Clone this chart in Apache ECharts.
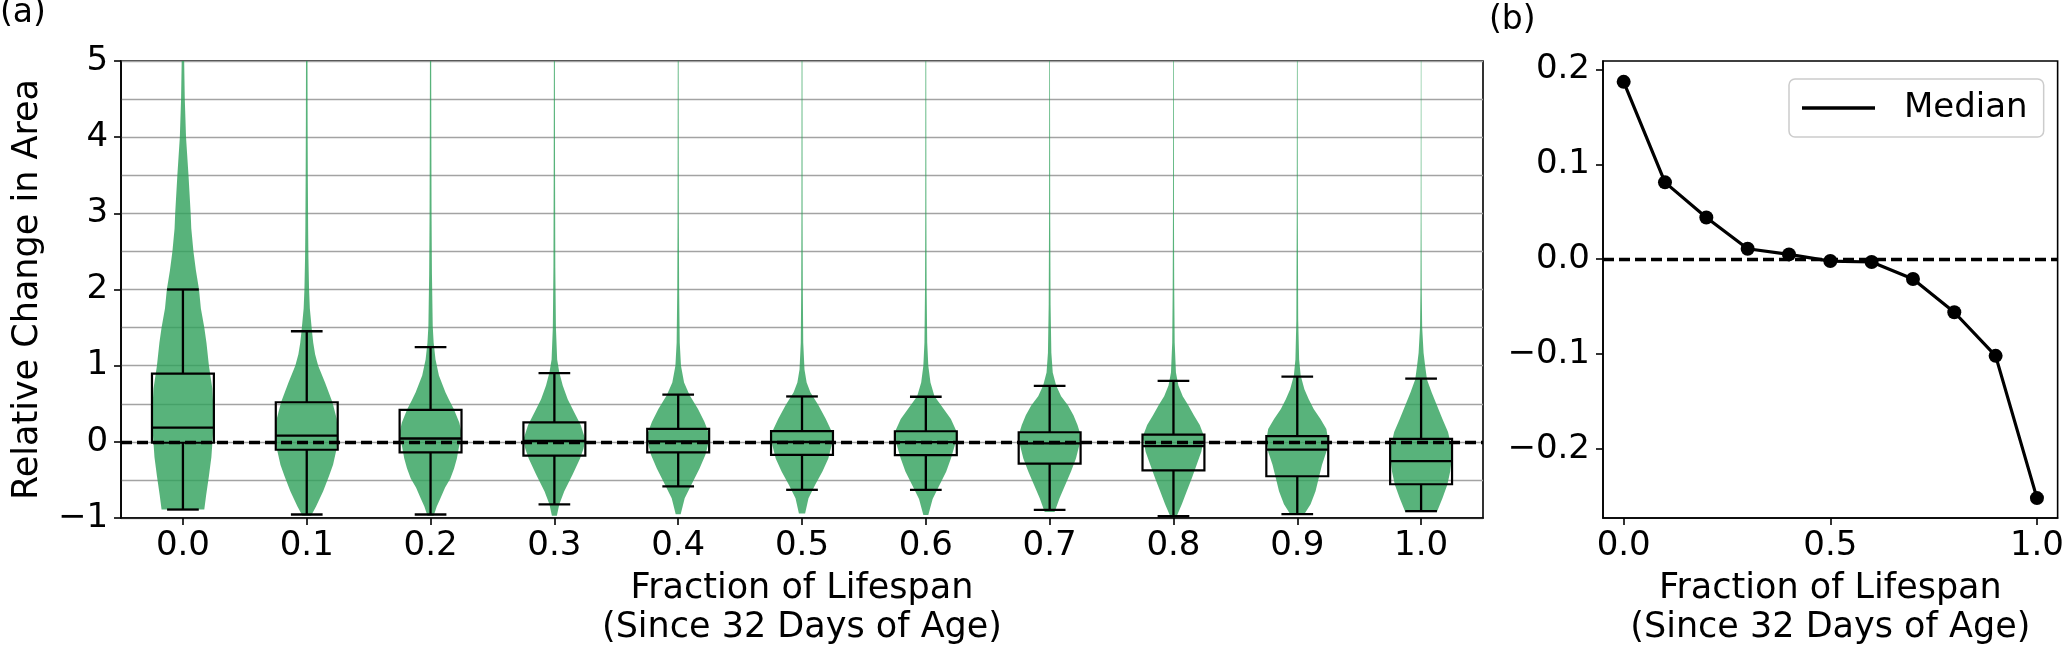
<!DOCTYPE html>
<html><head><meta charset="utf-8">
<script src="https://cdn.jsdelivr.net/npm/echarts@6/dist/echarts.min.js"></script>
<style>html,body{margin:0;padding:0;background:#fff}#c{width:2067px;height:652px}</style>
</head><body><div id="c"></div>
<script>
// ---- data ----
const fractions = [0, 0.1, 0.2, 0.3, 0.4, 0.5, 0.6, 0.7, 0.8, 0.9, 1.0];
const xTickLabels = ['0.0','0.1','0.2','0.3','0.4','0.5','0.6','0.7','0.8','0.9','1.0'];
const yTicksA = [-1, 0, 1, 2, 3, 4, 5];
const xTicksB = [0, 0.5, 1.0];
const yTicksB = [-0.2, -0.1, 0, 0.1, 0.2];
const medians = [0.187, 0.081, 0.044, 0.011, 0.005, -0.002, -0.003, -0.021, -0.056, -0.102, -0.252];
const q1 = [-0.012, -0.104, -0.139, -0.18, -0.139, -0.171, -0.175, -0.287, -0.376, -0.452, -0.557];
const q3 = [0.896, 0.52, 0.42, 0.256, 0.169, 0.14, 0.139, 0.126, 0.095, 0.074, 0.04];
const whiskerLow = [-0.889, -0.954, -0.954, -0.82, -0.585, -0.63, -0.63, -0.893, -0.975, -0.95, -0.91];
const whiskerHigh = [2.0, 1.452, 1.244, 0.902, 0.62, 0.596, 0.592, 0.734, 0.80, 0.855, 0.83];

// violin outlines: [value, relative half-width (1 = widest)]
const violin00 = [[-0.89,0.69],[-0.7,0.75],[-0.45,0.84],[-0.2,0.92],[0.1,0.97],[0.4,0.99],[0.7,0.95],[1.0,0.84],[1.3,0.76],[1.5,0.69],[1.75,0.58],[2.0,0.52],[2.25,0.42],[2.5,0.34],[2.8,0.27],[3.0,0.25],[3.5,0.18],[4.0,0.1],[4.5,0.06],[5.0,0.04]];
const violin01 = [[-0.97,0.14],[-0.85,0.3],[-0.65,0.53],[-0.45,0.72],[-0.3,0.85],[-0.1,0.96],[0.1,1.0],[0.3,0.97],[0.52,0.83],[0.78,0.59],[1.0,0.37],[1.15,0.27],[1.3,0.21],[1.45,0.17],[1.75,0.1],[2.0,0.075],[2.4,0.055],[2.8,0.045],[3.5,0.035],[4.2,0.028],[5.0,0.024]];
const violin02 = [[-0.97,0.1],[-0.85,0.2],[-0.74,0.32],[-0.6,0.47],[-0.48,0.64],[-0.35,0.76],[-0.22,0.85],[-0.04,0.93],[0.12,1.0],[0.25,0.93],[0.43,0.75],[0.55,0.6],[0.65,0.48],[0.87,0.27],[1.08,0.16],[1.3,0.1],[1.52,0.07],[2.2,0.045],[3.0,0.032],[4.0,0.025],[5.0,0.02]];
const violin03 = [[-0.97,0.08],[-0.82,0.16],[-0.65,0.32],[-0.43,0.59],[-0.22,0.83],[-0.09,0.94],[0.03,1.0],[0.22,0.85],[0.39,0.64],[0.56,0.43],[0.74,0.27],[0.91,0.16],[1.08,0.09],[1.5,0.05],[2.3,0.03],[3.5,0.022],[5.0,0.016]];
const violin04 = [[-0.95,0.08],[-0.74,0.21],[-0.56,0.43],[-0.35,0.69],[-0.17,0.88],[0,0.99],[0.1,1.0],[0.26,0.85],[0.43,0.64],[0.61,0.37],[0.78,0.19],[1.0,0.09],[1.3,0.05],[2.0,0.03],[3.0,0.02],[5.0,0.014]];
const violin05 = [[-0.94,0.1],[-0.74,0.21],[-0.56,0.43],[-0.39,0.66],[-0.22,0.85],[-0.04,0.96],[0.1,1.0],[0.3,0.77],[0.48,0.53],[0.65,0.27],[0.78,0.15],[0.95,0.08],[1.3,0.04],[2.0,0.026],[3.0,0.018],[5.0,0.013]];
const violin06 = [[-0.96,0.08],[-0.75,0.22],[-0.56,0.45],[-0.39,0.66],[-0.22,0.81],[0,0.97],[0.13,1.0],[0.3,0.81],[0.48,0.49],[0.6,0.28],[0.78,0.15],[1.0,0.08],[1.3,0.045],[2.0,0.026],[3.0,0.018],[5.0,0.013]];
const violin07 = [[-0.92,0.16],[-0.74,0.32],[-0.56,0.51],[-0.39,0.69],[-0.22,0.85],[-0.04,0.96],[0.09,1.0],[0.22,0.9],[0.35,0.77],[0.48,0.59],[0.6,0.37],[0.74,0.21],[0.91,0.1],[1.17,0.055],[1.8,0.03],[3.0,0.018],[5.0,0.011]];
const violin08 = [[-0.98,0.1],[-0.82,0.27],[-0.65,0.43],[-0.48,0.59],[-0.3,0.75],[-0.13,0.9],[0,0.96],[0.06,1.0],[0.22,0.85],[0.35,0.66],[0.48,0.48],[0.6,0.3],[0.74,0.16],[0.91,0.08],[1.3,0.04],[2.0,0.025],[3.0,0.016],[5.0,0.011]];
const violin09 = [[-0.96,0.21],[-0.82,0.43],[-0.65,0.59],[-0.48,0.69],[-0.3,0.8],[-0.13,0.94],[0.02,1.0],[0.17,0.94],[0.3,0.75],[0.43,0.53],[0.56,0.37],[0.69,0.23],[0.87,0.11],[1.08,0.06],[1.6,0.03],[3.0,0.017],[5.0,0.011]];
const violin10 = [[-0.92,0.51],[-0.74,0.69],[-0.56,0.85],[-0.39,0.94],[-0.22,0.99],[-0.1,1.0],[0.13,0.87],[0.3,0.69],[0.48,0.51],[0.65,0.34],[0.82,0.19],[1.0,0.13],[1.17,0.08],[1.5,0.035],[2.0,0.02],[3.0,0.012],[5.0,0.008]];
const violinProfiles = [violin00, violin01, violin02, violin03, violin04, violin05, violin06, violin07, violin08, violin09, violin10];

// ---- rendering ----
const FONT = 'DejaVu Sans';
function fmtInt(v){ return (v < 0 ? '\u2212' : '') + Math.abs(Math.round(v)); }
function fmt1(v){ const r = Math.round(v*10)/10; return (r < 0 ? '\u2212' : '') + Math.abs(r).toFixed(1); }

function renderViolin(params, api){
  const i = params.dataIndex;
  const prof = violinProfiles[i];
  const band = api.size([1, 0])[0];
  const cx = api.coord([i, 0])[0];
  const half = 0.25 * band;
  const right = [], left = [];
  prof.forEach(([v, w]) => {
    const y = api.coord([i, v])[1];
    right.push([cx + w*half, y]);
    left.push([cx - w*half, y]);
  });
  return {type:'polygon', shape:{points: right.concat(left.reverse())},
          style:{fill:'rgba(46,160,90,0.8)', stroke:null}};
}

function renderBox(params, api){
  const i = params.dataIndex;
  const band = api.size([1, 0])[0];
  const cx = api.coord([i, 0])[0];
  const Y = v => api.coord([i, v])[1];
  const bw = 0.25*band, cw = 0.128*band;
  const ls = {stroke:'#000', lineWidth:2.3};
  return {type:'group', children:[
    {type:'rect', shape:{x:cx-bw, y:Y(q3[i]), width:2*bw, height:Y(q1[i])-Y(q3[i])}, style:{fill:'none', stroke:'#000', lineWidth:2.2}},
    {type:'line', shape:{x1:cx-bw, y1:Y(medians[i]), x2:cx+bw, y2:Y(medians[i])}, style:ls},
    {type:'line', shape:{x1:cx, y1:Y(q3[i]), x2:cx, y2:Y(whiskerHigh[i])}, style:ls},
    {type:'line', shape:{x1:cx, y1:Y(q1[i]), x2:cx, y2:Y(whiskerLow[i])}, style:ls},
    {type:'line', shape:{x1:cx-cw, y1:Y(whiskerHigh[i]), x2:cx+cw, y2:Y(whiskerHigh[i])}, style:ls},
    {type:'line', shape:{x1:cx-cw, y1:Y(whiskerLow[i]), x2:cx+cw, y2:Y(whiskerLow[i])}, style:ls}
  ]};
}

const axisTxt = {color:'#000', fontFamily:FONT, fontSize:34};
const nameTxt = {color:'#000', fontFamily:FONT, fontSize:35, lineHeight:39};
const tickStyle = {show:true, length:7, lineStyle:{color:'#000', width:1.6}};
const lineStyleAxis = {show:true, onZero:false, lineStyle:{color:'#000', width:1.6}};
const zeroLine = {silent:true, symbol:['none','none'], label:{show:false},
  lineStyle:{color:'#000', width:3.3, type:[11,5]}, data:[{yAxis:0}]};

const chart = echarts.init(document.getElementById('c'), null, {renderer:'canvas'});
chart.setOption({
  animation:false,
  backgroundColor:'#fff',
  textStyle:{fontFamily:FONT},
  grid:[
    {left:108, top:61, width:1375, height:462, show:true, borderColor:'#000', borderWidth:1.6, backgroundColor:'transparent'},
    {left:1603, top:61, width:459, height:462, show:true, borderColor:'#000', borderWidth:1.6, backgroundColor:'transparent'}
  ],
  xAxis:[
    {gridIndex:0, type:'category', data:xTickLabels, boundaryGap:true,
     axisLine:lineStyleAxis, axisTick:Object.assign({alignWithLabel:true}, tickStyle),
     axisLabel:Object.assign({margin:11, interval:0}, axisTxt), splitLine:{show:false},
     name:'Fraction of Lifespan\n(Since 32 Days of Age)', nameLocation:'middle', nameGap:51, nameTextStyle:nameTxt},
    {gridIndex:1, type:'value', min:-0.05, max:1.05,
     axisLine:lineStyleAxis, axisTick:Object.assign({customValues:xTicksB}, tickStyle),
     axisLabel:Object.assign({margin:11, customValues:xTicksB, formatter:fmt1}, axisTxt), splitLine:{show:false},
     name:'Fraction of Lifespan\n(Since 32 Days of Age)', nameLocation:'middle', nameGap:51, nameTextStyle:nameTxt}
  ],
  yAxis:[
    {gridIndex:0, type:'value', min:-1, max:5, interval:1,
     axisLine:lineStyleAxis, axisTick:tickStyle,
     axisLabel:Object.assign({margin:13, formatter:fmtInt}, axisTxt),
     splitLine:{show:true, lineStyle:{color:'#a3a3a3', width:1.4}},
     minorTick:{show:false, splitNumber:2},
     minorSplitLine:{show:true, lineStyle:{color:'#a3a3a3', width:1.4}},
     name:'Relative Change in Area', nameLocation:'middle', nameRotate:90, nameGap:72, nameTextStyle:nameTxt},
    {gridIndex:1, type:'value', min:-0.273, max:0.209,
     axisLine:lineStyleAxis, axisTick:Object.assign({customValues:yTicksB}, tickStyle),
     axisLabel:Object.assign({margin:13, customValues:yTicksB, formatter:fmt1}, axisTxt),
     splitLine:{show:false}}
  ],
  legend:{
    data:[{name:'Median', icon:'rect'}],
    left:1789, top:79, orient:'vertical',
    padding:[12,16,12,13], itemWidth:73, itemHeight:3.5,
    backgroundColor:'rgba(255,255,255,0.8)', borderColor:'#cccccc', borderWidth:1.5, borderRadius:6,
    textStyle:{color:'#000', fontFamily:FONT, fontSize:34, padding:[0,0,0,24]}
  },
  series:[
    {type:'custom', name:'violins', xAxisIndex:0, yAxisIndex:0, z:2, silent:true,
     renderItem:renderViolin, data:fractions.map((f,i)=>[i, medians[i]])},
    {type:'custom', name:'boxes', xAxisIndex:0, yAxisIndex:0, z:3, silent:true,
     renderItem:renderBox, data:fractions.map((f,i)=>[i, medians[i]])},
    {type:'line', name:'zeroA', xAxisIndex:0, yAxisIndex:0, z:6, data:[], markLine:zeroLine},
    {type:'line', name:'Median', xAxisIndex:1, yAxisIndex:1, z:4,
     data:fractions.map((f,i)=>[f, medians[i]]),
     symbol:'circle', symbolSize:14, showSymbol:true,
     itemStyle:{color:'#000'}, lineStyle:{color:'#000', width:3.2},
     markLine:zeroLine}
  ],
  graphic:[
    {type:'text', left:0, top:-3, style:{text:'(a)', fontFamily:FONT, fontSize:33, fill:'#000'}},
    {type:'text', left:1489, top:4, style:{text:'(b)', fontFamily:FONT, fontSize:33, fill:'#000'}}
  ]
});
</script></body></html>
